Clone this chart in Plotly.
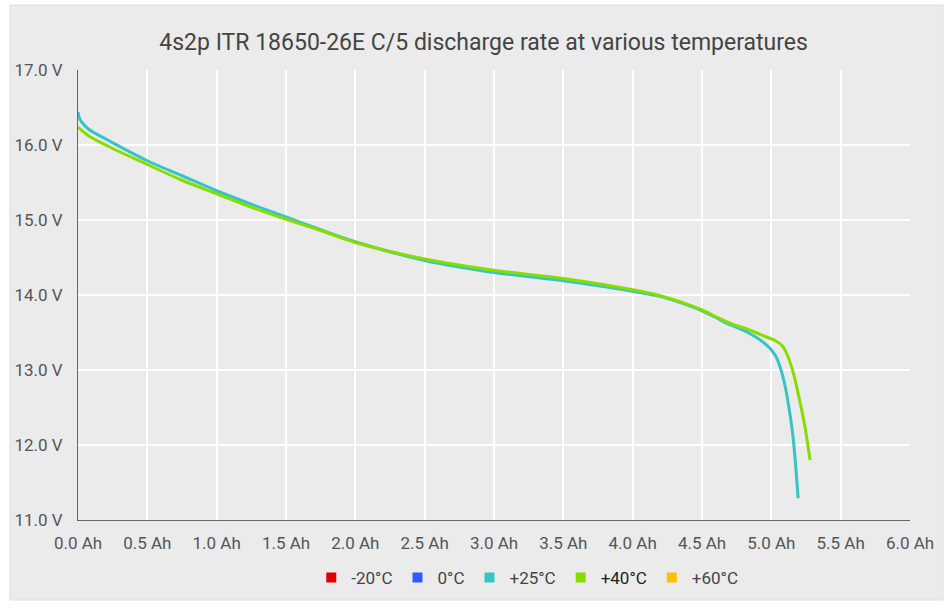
import plotly.graph_objects as go

# Legend series (temperature labels and colours)
series_names = ["-20°C", "0°C", "+25°C", "+40°C", "+60°C"]
series_colors = ["#e00000", "#2e5cff", "#36c4c6", "#88dd00", "#ffc000"]

# +25°C discharge curve (capacity Ah, voltage V)
cap_25 = [0, 0.01, 0.029, 0.077, 0.221, 0.5, 0.75, 1.0, 1.25, 1.5, 1.75, 2.0, 2.5, 3.0,
          3.5, 4.0, 4.2, 4.35, 4.5, 4.6, 4.68, 4.75, 4.82, 4.92, 4.99, 5.036, 5.07, 5.1,
          5.125, 5.152, 5.174, 5.193]
volt_25 = [16.44, 16.36, 16.30, 16.21, 16.06, 15.79, 15.59, 15.39, 15.21, 15.04, 14.87,
           14.71, 14.46, 14.30, 14.19, 14.05, 13.98, 13.895, 13.79, 13.70, 13.62, 13.57,
           13.51, 13.40, 13.29, 13.17, 13.00, 12.78, 12.52, 12.18, 11.76, 11.29]

# +40°C discharge curve
cap_40 = [0, 0.029, 0.077, 0.221, 0.5, 0.75, 1.0, 1.25, 1.5, 1.75, 2.0, 2.5, 3.0, 3.5,
          4.0, 4.2, 4.35, 4.5, 4.6, 4.68, 4.75, 4.82, 4.965, 5.03, 5.08, 5.12, 5.16, 5.2,
          5.24, 5.279]
volt_40 = [16.24, 16.19, 16.12, 15.98, 15.74, 15.53, 15.35, 15.17, 15.01, 14.86, 14.70,
           14.48, 14.33, 14.22, 14.07, 13.99, 13.905, 13.80, 13.71, 13.64, 13.59, 13.55,
           13.44, 13.39, 13.32, 13.18, 12.95, 12.63, 12.27, 11.80]

x_ticks = [0, 0.5, 1.0, 1.5, 2.0, 2.5, 3.0, 3.5, 4.0, 4.5, 5.0, 5.5, 6.0]
x_labels = ["%.1f Ah" % v for v in x_ticks]
y_ticks = [11, 12, 13, 14, 15, 16, 17]
y_labels = ["%.1f V" % v for v in y_ticks]

data = {"+25°C": (cap_25, volt_25), "+40°C": (cap_40, volt_40)}

fig = go.Figure()
for name, color in zip(series_names, series_colors):
    if name in data:
        xs, ys = data[name]
        fig.add_trace(go.Scatter(x=xs, y=ys, mode="lines", name=name,
                                 line=dict(color=color, width=3, shape="spline", smoothing=0.9),
                                 legendgroup=name, showlegend=False, hoverinfo="skip"))
    label = name if name != "+40°C" else '<span style="color:#222222">' + name + '</span>'
    fig.add_trace(go.Scatter(x=[None], y=[None], mode="markers", name=label,
                             marker=dict(color=color, symbol="square", size=10),
                             legendgroup=name, showlegend=True))

fig.update_layout(
    width=952, height=614,
    margin=dict(l=78, r=42, t=70, b=94),
    paper_bgcolor="white",
    plot_bgcolor="rgba(0,0,0,0)",
    font=dict(family="Roboto", size=17, color="#555555"),
    title=dict(text="4s2p ITR 18650-26E C/5 discharge rate at various temperatures",
               x=0.508, xref="container", xanchor="center", y=0.932, yref="container",
               yanchor="middle", font=dict(family="Roboto", size=23, color="#444444")),
    showlegend=True,
    legend=dict(orientation="h", x=0.54, xanchor="center", y=-0.129, yanchor="middle",
                font=dict(size=17, color="#444444"), itemwidth=30, traceorder="normal",
                bgcolor="rgba(0,0,0,0)"),
    shapes=[dict(type="rect", xref="paper", yref="paper", x0=-0.0817, x1=1.0397,
                 y0=-0.1778, y1=1.1444, fillcolor="#ebebeb",
                 line=dict(color="#dedede", width=1), layer="below")],
)
fig.update_xaxes(range=[0, 6], tickvals=x_ticks, ticktext=x_labels, showgrid=True,
                 gridcolor="white", gridwidth=2, zeroline=False, showline=True,
                 linecolor="#666666", linewidth=1, ticks="", ticklabelstandoff=8,
                 fixedrange=True)
fig.update_yaxes(range=[11, 17], tickvals=y_ticks, ticktext=y_labels, showgrid=True,
                 gridcolor="white", gridwidth=2, zeroline=False, showline=True,
                 linecolor="#666666", linewidth=1, ticks="", ticklabelstandoff=11,
                 fixedrange=True)

fig.write_html("out.html", config={"displayModeBar": False},
               post_script="document.body.style.margin='0';")
